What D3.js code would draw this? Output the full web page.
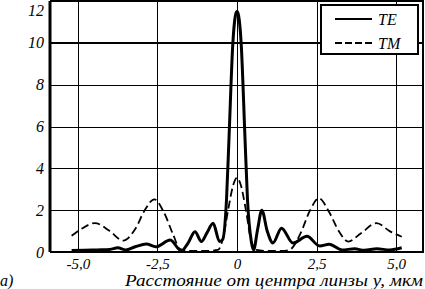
<!DOCTYPE html>
<html lang="ru">
<head>
  <meta charset="UTF-8">
  <script src="https://d3js.org/d3.v7.min.js"></script>
  <style>
    body { margin: 0; background: #fff; }
    svg { display: block; }
    text { font-family: "Liberation Serif", "DejaVu Serif", serif; font-style: italic; fill: #000; }
  </style>
</head>
<body>
  <div id="chart"></div>
  <script>
    // TE (solid) and TM (dashed) intensity vs distance from lens centre
    const teX = [-5.2, -4.8, -4.4, -4.0, -3.75, -3.5, -3.2, -2.85, -2.55, -2.1, -1.75, -1.55, -1.32, -1.12, -0.95, -0.75, -0.55, -0.45, -0.33, -0.25, -0.13, -0.05, 0, 0.05, 0.13, 0.25, 0.33, 0.45, 0.52, 0.65, 0.78, 0.95, 1.13, 1.4, 1.76, 2.2, 2.6, 2.9, 3.3, 3.7, 4.0, 4.4, 4.8, 5.18];
    const teY = [0.07, 0.08, 0.1, 0.12, 0.2, 0.1, 0.25, 0.38, 0.25, 0.57, 0.05, 0.4, 0.97, 0.5, 0.9, 1.37, 0.5, 0.6, 2.5, 5.5, 10, 11.3, 11.5, 11.3, 10, 5.5, 2.5, 0.5, 0.1, 1.1, 2.0, 1.0, 0.43, 1.14, 0.43, 0.75, 0.29, 0.37, 0.1, 0.15, 0.08, 0.15, 0.1, 0.2];

    const tmX = [-5.2, -4.9, -4.47, -4.0, -3.58, -3.2, -2.9, -2.6, -2.3, -2.0, -1.8, -1.5, -1.0, -0.6, -0.45, -0.28, -0.12, 0, 0.12, 0.28, 0.45, 0.6, 1.0, 1.5, 1.7, 2.0, 2.3, 2.57, 2.9, 3.2, 3.5, 3.9, 4.39, 4.8, 5.18];
    const tmY = [0.78, 1.1, 1.38, 1.0, 0.54, 1.1, 2.0, 2.52, 1.9, 0.8, 0.15, 0.05, 0.05, 0.1, 0.6, 2.0, 3.2, 3.55, 3.2, 2.0, 0.5, 0.1, 0.05, 0.05, 0.15, 0.9, 2.0, 2.57, 1.9, 1.0, 0.5, 0.9, 1.38, 1.0, 0.73];

    const xTicks = [-5, -2.5, 0, 2.5, 5];
    const xTickLabels = ["-5,0", "-2,5", "0", "2,5", "5,0"];
    const yTicks = [0, 2, 4, 6, 8, 10, 12];
    const seriesNames = ["TE", "TM"];
    const xTitle = "Расстояние от центра линзы y, мкм";

    const width = 425, height = 289;
    const margin = { top: 1, right: 1, bottom: 37, left: 50 };
    const plotW = width - margin.left - margin.right;
    const plotH = height - margin.top - margin.bottom;

    const svg = d3.select("#chart").append("svg")
      .attr("width", width)
      .attr("height", height);

    const x = d3.scaleLinear().domain([-5.88, 5.88]).range([0, plotW]);
    const y = d3.scaleLinear().domain([0, 12]).range([plotH, 0]);

    const g = svg.append("g")
      .attr("transform", `translate(${margin.left},${margin.top})`);

    // grid via axes
    const yAxis = g.append("g")
      .call(d3.axisLeft(y).tickValues(yTicks).tickSize(-plotW).tickFormat(d3.format("d")));
    yAxis.select(".domain").remove();
    yAxis.selectAll("line")
      .attr("stroke", "#000")
      .attr("stroke-width", d => d === 10 ? 2 : 1)
      .attr("shape-rendering", "crispEdges");
    yAxis.selectAll("text")
      .attr("x", -6)
      .attr("dy", "0.32em")
      .attr("y", d => d === 12 ? 9 : 0)
      .style("font-size", "16px");

    const xAxis = g.append("g")
      .attr("transform", `translate(0,${plotH})`)
      .call(d3.axisBottom(x).tickValues(xTicks).tickSize(-plotH).tickFormat((d, i) => xTickLabels[i]));
    xAxis.select(".domain").remove();
    xAxis.selectAll("line")
      .attr("stroke", "#000")
      .attr("stroke-width", 1)
      .attr("shape-rendering", "crispEdges");
    xAxis.selectAll("text")
      .attr("y", 17)
      .attr("dy", 0)
      .style("font-size", "15px");

    // frame
    g.append("line").attr("x1", 0).attr("x2", plotW).attr("y1", 0).attr("y2", 0)
      .attr("stroke", "#000").attr("stroke-width", 2);
    g.append("line").attr("x1", plotW - 1).attr("x2", plotW - 1).attr("y1", 0).attr("y2", plotH)
      .attr("stroke", "#000").attr("stroke-width", 2);
    g.append("line").attr("x1", 0).attr("x2", plotW).attr("y1", plotH).attr("y2", plotH)
      .attr("stroke", "#000").attr("stroke-width", 2);
    g.append("line").attr("x1", 0).attr("x2", 0).attr("y1", 0).attr("y2", plotH)
      .attr("stroke", "#000").attr("stroke-width", 3);

    const line = d3.line()
      .x(d => x(d[0]))
      .y(d => y(d[1]))
      .curve(d3.curveMonotoneX);

    g.append("path")
      .datum(tmX.map((v, i) => [v, tmY[i]]))
      .attr("fill", "none")
      .attr("stroke", "#000")
      .attr("stroke-width", 1.8)
      .attr("stroke-dasharray", "8,4")
      .attr("d", line);

    g.append("path")
      .datum(teX.map((v, i) => [v, teY[i]]))
      .attr("fill", "none")
      .attr("stroke", "#000")
      .attr("stroke-width", 3)
      .attr("d", line);

    // legend
    const legend = svg.append("g").attr("transform", "translate(321,5)");
    legend.append("rect")
      .attr("width", 97).attr("height", 49)
      .attr("fill", "#fff").attr("stroke", "#000").attr("stroke-width", 2);
    seriesNames.forEach((name, i) => {
      const ly = 14 + i * 24;
      legend.append("line")
        .attr("x1", 14).attr("x2", 51).attr("y1", ly).attr("y2", ly)
        .attr("stroke", "#000").attr("stroke-width", 1.8)
        .attr("stroke-dasharray", i === 1 ? "7,3" : null);
      legend.append("text")
        .attr("x", 57).attr("y", ly + 6)
        .style("font-size", "16px")
        .text(name);
    });

    // titles
    svg.append("text")
      .attr("x", 125).attr("y", 286)
      .style("font-size", "16px")
      .attr("textLength", 298)
      .attr("lengthAdjust", "spacingAndGlyphs")
      .text(xTitle);

    svg.append("text")
      .attr("x", 0).attr("y", 286)
      .style("font-size", "16px")
      .text("а)");
  </script>
</body>
</html>
